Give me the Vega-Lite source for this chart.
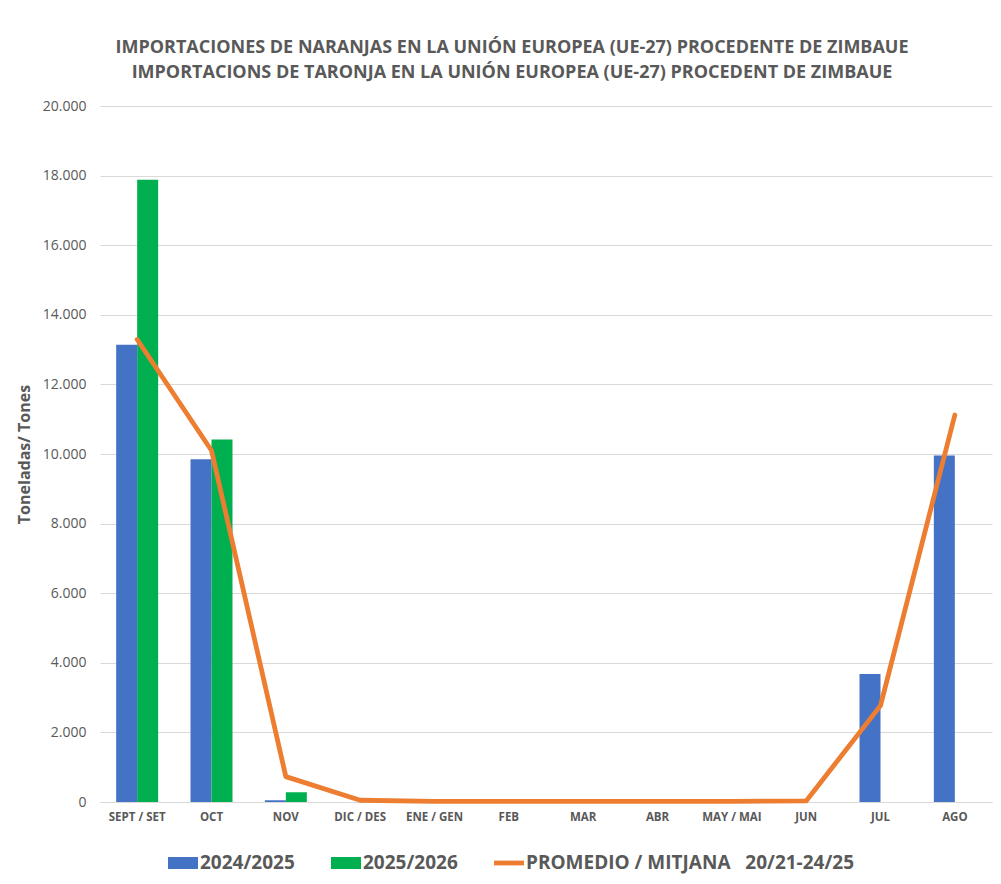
{
  "$schema": "https://vega.github.io/schema/vega-lite/v6.json",
  "width": 892,
  "height": 696,
  "autosize": {"type": "none"},
  "padding": {"left": 100, "top": 106, "right": 9, "bottom": 82},
  "background": "white",
  "config": {
    "font": "Open Sans",
    "view": {"stroke": null},
    "title": {"color": "#595959", "fontSize": 18, "fontWeight": "bold", "font": "Open Sans", "lineHeight": 25}
  },
  "title": {
    "text": ["IMPORTACIONES DE NARANJAS EN LA UNIÓN EUROPEA (UE-27) PROCEDENTE DE ZIMBAUE", "IMPORTACIONS DE TARONJA EN LA UNIÓN EUROPEA (UE-27) PROCEDENT DE ZIMBAUE"],
    "anchor": "middle",
    "frame": "group",
    "dx": -34,
    "offset": 17
  },
  "data": {
    "values": [
      {"mes": "SEPT / SET", "serie": "2024/2025", "valor": 13140},
      {"mes": "SEPT / SET", "serie": "2025/2026", "valor": 17880},
      {"mes": "SEPT / SET", "serie": "PROMEDIO / MITJANA   20/21-24/25", "valor": 13290},
      {"mes": "OCT", "serie": "2024/2025", "valor": 9850},
      {"mes": "OCT", "serie": "2025/2026", "valor": 10420},
      {"mes": "OCT", "serie": "PROMEDIO / MITJANA   20/21-24/25", "valor": 10100},
      {"mes": "NOV", "serie": "2024/2025", "valor": 50},
      {"mes": "NOV", "serie": "2025/2026", "valor": 280},
      {"mes": "NOV", "serie": "PROMEDIO / MITJANA   20/21-24/25", "valor": 730},
      {"mes": "DIC / DES", "serie": "PROMEDIO / MITJANA   20/21-24/25", "valor": 50},
      {"mes": "ENE / GEN", "serie": "PROMEDIO / MITJANA   20/21-24/25", "valor": 20},
      {"mes": "FEB", "serie": "PROMEDIO / MITJANA   20/21-24/25", "valor": 20},
      {"mes": "MAR", "serie": "PROMEDIO / MITJANA   20/21-24/25", "valor": 20},
      {"mes": "ABR", "serie": "PROMEDIO / MITJANA   20/21-24/25", "valor": 20},
      {"mes": "MAY / MAI", "serie": "PROMEDIO / MITJANA   20/21-24/25", "valor": 20},
      {"mes": "JUN", "serie": "PROMEDIO / MITJANA   20/21-24/25", "valor": 30},
      {"mes": "JUL", "serie": "2024/2025", "valor": 3680},
      {"mes": "JUL", "serie": "PROMEDIO / MITJANA   20/21-24/25", "valor": 2770},
      {"mes": "AGO", "serie": "2024/2025", "valor": 9960},
      {"mes": "AGO", "serie": "PROMEDIO / MITJANA   20/21-24/25", "valor": 11120}
    ]
  },
  "encoding": {
    "x": {
      "field": "mes",
      "type": "nominal",
      "sort": ["SEPT / SET", "OCT", "NOV", "DIC / DES", "ENE / GEN", "FEB", "MAR", "ABR", "MAY / MAI", "JUN", "JUL", "AGO"],
      "scale": {"paddingInner": 0, "paddingOuter": 0},
      "axis": {
        "title": null,
        "labelAngle": 0,
        "labelFont": "Open Sans",
        "labelFontSize": 11.5,
        "labelFontWeight": "bold",
        "labelColor": "#595959",
        "labelPadding": 9,
        "ticks": false,
        "domainColor": "#D9D9D9",
        "domainWidth": 1
      }
    },
    "y": {
      "field": "valor",
      "type": "quantitative",
      "scale": {"domain": [0, 20000], "nice": false},
      "axis": {
        "title": "Toneladas/ Tones",
        "titleFont": "Open Sans",
        "titleFontSize": 16,
        "titleFontWeight": "bold",
        "titleColor": "#595959",
        "titlePadding": 10,
        "values": [0, 2000, 4000, 6000, 8000, 10000, 12000, 14000, 16000, 18000, 20000],
        "labelExpr": "replace(format(datum.value, ','), ',', '.')",
        "labelFont": "Open Sans",
        "labelFontSize": 14,
        "labelColor": "#595959",
        "labelPadding": 14,
        "ticks": false,
        "domain": false,
        "gridColor": "#D9D9D9",
        "gridWidth": 1
      }
    }
  },
  "layer": [
    {
      "transform": [{"filter": "datum.serie !== 'PROMEDIO / MITJANA   20/21-24/25'"}],
      "mark": {"type": "bar"},
      "encoding": {
        "xOffset": {
          "field": "serie",
          "type": "nominal",
          "scale": {"domain": ["2024/2025", "2025/2026"], "paddingInner": 0, "paddingOuter": 0.77}
        },
        "color": {
          "field": "serie",
          "type": "nominal",
          "scale": {
            "domain": ["2024/2025", "2025/2026", "PROMEDIO / MITJANA   20/21-24/25"],
            "range": ["#4472C4", "#00B050", "#ED7D31"]
          },
          "legend": {
            "title": null,
            "orient": "none",
            "direction": "horizontal",
            "legendX": 68,
            "legendY": 742,
            "labelFont": "Open Sans",
            "labelFontSize": 19,
            "labelFontWeight": "bold",
            "labelColor": "#595959",
            "labelLimit": 500,
            "labelOffset": 2,
            "columnPadding": 36,
            "symbolType": "M-1,-0.4H1V0.4H-1Z",
            "symbolSize": 900,
            "symbolStrokeWidth": 0,
            "labelExpr": "replace(datum.label, '   ', '\u00a0\u00a0\u00a0')",
            "encode": {
              "symbols": {
                "update": {
                  "shape": {"signal": "datum.value === 'PROMEDIO / MITJANA   20/21-24/25' ? 'M-1,-0.16H1V0.16H-1Z' : 'M-1,-0.4H1V0.4H-1Z'"},
                  "fill": {"signal": "scale('color', datum.value)"},
                  "fillOpacity": {"value": 1}
                }
              }
            }
          }
        }
      }
    },
    {
      "transform": [{"filter": "datum.serie === 'PROMEDIO / MITJANA   20/21-24/25'"}],
      "mark": {"type": "line", "strokeWidth": 4.8, "strokeCap": "round", "strokeJoin": "round"},
      "encoding": {
        "color": {"field": "serie", "type": "nominal", "legend": null}
      }
    }
  ]
}
